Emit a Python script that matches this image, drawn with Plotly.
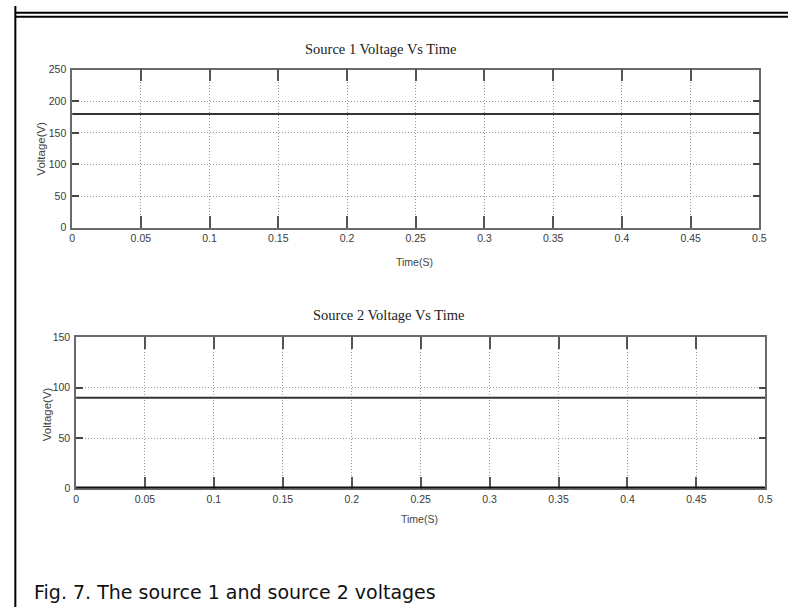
import plotly.graph_objects as go

W, H = 795, 613

# ---- data ----
time_s = [0.0, 0.5]
source1_voltage = [180, 180]
source2_voltage = [90, 90]
source2_zero = [0, 0]

x_ticks = [0, 0.05, 0.1, 0.15, 0.2, 0.25, 0.3, 0.35, 0.4, 0.45, 0.5]
x_tick_labels = ["0", "0.05", "0.1", "0.15", "0.2", "0.25", "0.3", "0.35", "0.4", "0.45", "0.5"]
y1_ticks = [0, 50, 100, 150, 200, 250]
y1_tick_labels = ["0", "50", "100", "150", "200", "250"]
y2_ticks = [0, 50, 100, 150]
y2_tick_labels = ["0", "50", "100", "150"]

title1 = "Source 1 Voltage Vs Time"
title2 = "Source 2 Voltage Vs Time"
x_title = "Time(S)"
y_title = "Voltage(V)"
caption = "Fig. 7. The source 1 and source 2 voltages"

# ---- helpers ----
def px_x(p):
    return p / W

def px_y(p):
    return 1 - p / H

TICK_FONT = dict(family="Liberation Sans, Arial", size=10.5, color="#3a3a3a")
TITLE_FONT = dict(family="Liberation Serif, Times New Roman, serif", size=14.5, color="#222")
LABEL_FONT = dict(family="Liberation Sans, Arial", size=10.5, color="#444")
YLABEL_FONT = dict(family="Liberation Sans, Arial", size=11.5, color="#444")
AXIS_COLOR = "#6a6a6a"
GRID_COLOR = "#9a9a9a"

fig = go.Figure()

fig.add_trace(go.Scatter(x=time_s, y=source1_voltage, mode="lines",
                         line=dict(color="#333", width=2), xaxis="x", yaxis="y",
                         showlegend=False, hoverinfo="skip"))
fig.add_trace(go.Scatter(x=time_s, y=source2_voltage, mode="lines",
                         line=dict(color="#333", width=2), xaxis="x2", yaxis="y2",
                         showlegend=False, hoverinfo="skip"))
fig.add_trace(go.Scatter(x=time_s, y=source2_zero, mode="lines",
                         line=dict(color="#111", width=3.5), xaxis="x2", yaxis="y2",
                         showlegend=False, hoverinfo="skip", cliponaxis=False))

def xaxis_cfg(domain, anchor):
    return dict(domain=domain, anchor=anchor, range=[0, 0.5],
                tickmode="array", tickvals=x_ticks, ticktext=x_tick_labels,
                ticks="inside", ticklen=12, tickcolor="#555", tickwidth=1.5,
                showline=True, linecolor=AXIS_COLOR, linewidth=1.5, mirror="ticks",
                showgrid=True, gridcolor=GRID_COLOR, griddash="1px,2px", gridwidth=1,
                zeroline=False, tickfont=TICK_FONT, layer="below traces")

def yaxis_cfg(domain, anchor, rng, tv, tt):
    return dict(domain=domain, anchor=anchor, range=rng,
                tickmode="array", tickvals=tv, ticktext=tt,
                ticks="inside", ticklen=7, tickcolor="#444", tickwidth=1.5,
                showline=True, linecolor=AXIS_COLOR, linewidth=1.5, mirror="ticks",
                showgrid=True, gridcolor=GRID_COLOR, griddash="1px,2px", gridwidth=1,
                zeroline=False, tickfont=TICK_FONT, ticklabelstandoff=2,
                layer="below traces")

fig.update_layout(
    width=W, height=H,
    margin=dict(l=0, r=0, t=0, b=0),
    paper_bgcolor="white", plot_bgcolor="white",
    xaxis=xaxis_cfg([px_x(70), px_x(766)], "y"),
    yaxis=yaxis_cfg([px_y(226), px_y(65)], "x", [0, 250], y1_ticks, y1_tick_labels),
    xaxis2=xaxis_cfg([px_x(74), px_x(772)], "y2"),
    yaxis2=yaxis_cfg([px_y(492), px_y(338)], "x2", [0, 150], y2_ticks, y2_tick_labels),
)

def ann(text, x, y, font, xanchor="center", angle=0):
    fig.add_annotation(text=text, x=px_x(x), y=px_y(y), xref="paper", yref="paper",
                       xanchor=xanchor, yanchor="middle", showarrow=False, font=font,
                       textangle=angle, borderpad=0, borderwidth=0)

ann(title1, 382, 44, TITLE_FONT)
ann(title2, 390, 315, TITLE_FONT)
ann(x_title, 417, 261, LABEL_FONT)
ann(x_title, 422, 523, LABEL_FONT)
ann(y_title, 39, 146, YLABEL_FONT, angle=-90)
ann(y_title, 44, 416, YLABEL_FONT, angle=-90)
ann(caption, 31, 598, dict(family="DejaVu Sans, Liberation Sans", size=19, color="#111"), xanchor="left")

# outer frame lines
for y in (7, 11):
    fig.add_shape(type="line", xref="paper", yref="paper", x0=px_x(12.5), x1=1, y0=px_y(y), y1=px_y(y),
                  line=dict(color="black", width=2))
fig.add_shape(type="line", xref="paper", yref="paper", x0=px_x(12.5), x1=px_x(12.5), y0=0, y1=1,
              line=dict(color="black", width=2))

fig.write_html("out.html")
